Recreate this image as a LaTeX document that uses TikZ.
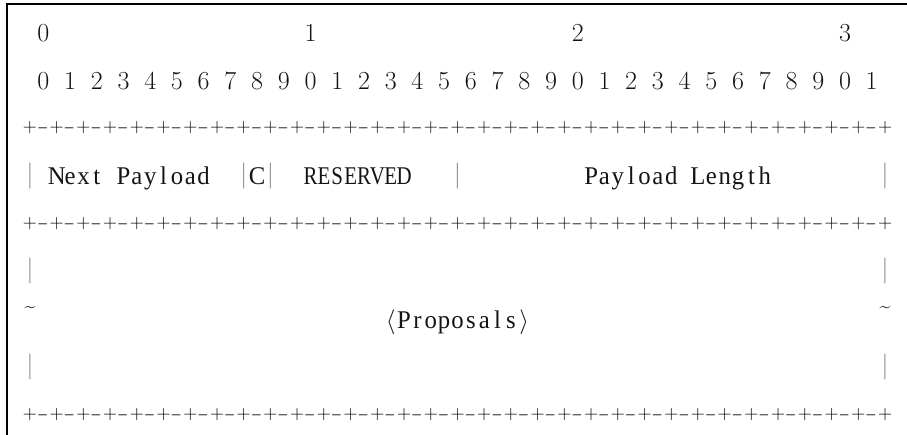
\documentclass[tikz,border=0pt]{standalone}
\usepackage{fontspec}
\usepackage{graphicx}
\newfontfamily\lettfont{Liberation Serif}
\definecolor{ink}{RGB}{20,20,20}
\definecolor{barc}{RGB}{140,140,140}
\tikzset{
  glyph/.style={inner sep=0pt, outer sep=0pt, anchor=base, text=ink,
    font=\fontsize{26}{30}\selectfont},
  letter/.style={glyph, font=\lettfont\fontsize{25.5}{30}\selectfont},
  rule/.style={glyph, text=black},
  vbar/.style={glyph, anchor=center, text=barc},
  frame/.style={line width=2.4pt, draw=black}
}
% column centre of a character cell
\newcommand\cx[1]{30+13.36*(#1)}
\newcommand\nar[1]{\scalebox{0.97}[1]{#1}}
\begin{document}
\begin{tikzpicture}[x=1pt,y=-1pt]
\useasboundingbox (0,0) rectangle (907,435);
\draw[frame] (7,435) -- (7,4) -- (907,4);

% word-number header
\node[glyph] (h0) at ({\cx{1}},41.4) {0};
\node[glyph] (h1) at ({\cx{21}},41.4) {1};
\node[glyph] (h2) at ({\cx{41}},41.4) {2};
\node[glyph] (h3) at ({\cx{61}},41.4) {3};

% bit numbers
\foreach \i in {0,...,31} {
  \pgfmathtruncatemacro\dg{mod(\i,10)}
  \node[glyph] (bit\i) at ({\cx{2*\i+1}},89.2) {\dg};
}

% +-+-+ rulers
\foreach \r/\yb in {2/132.9,4/228.5,8/419.7} {
  \foreach \i in {0,...,32}
    \node[rule] (pl\r-\i) at ({\cx{2*\i}},\yb) {\scalebox{0.75}{+}};
  \foreach \i in {0,...,31}
    \node[rule] (dh\r-\i) at ({\cx{2*\i+1}},\yb) {\scalebox{1.3}[0.75]{-}};
}

% first header word
\node[vbar] (b30) at ({\cx{0}},175.8) {\textbar};
\foreach \ch [count=\k from 2] in {N,e,x,t}
  \node[letter] (np\k) at ({\cx{\k}},184.8) {\nar{\ch}};
\foreach \ch [count=\k from 7] in {P,a,y,l,o,a,d}
  \node[letter] (np\k) at ({\cx{\k}},184.8) {\nar{\ch}};
\node[vbar] (b316) at ({\cx{16}},175.8) {\textbar};
\node[letter] (cflag) at ({\cx{17}},184.8) {\nar{C}};
\node[vbar] (b318) at ({\cx{18}},175.8) {\textbar};
\foreach \ch [count=\k from 21] in {R,E,S,E,R,V,E,D}
  \node[letter] (rs\k) at ({\cx{\k}},184.8) {\scalebox{0.82}[1]{\ch}};
\node[vbar] (b332) at ({\cx{32}},175.8) {\textbar};
\foreach \ch [count=\k from 42] in {P,a,y,l,o,a,d}
  \node[letter] (ln\k) at ({\cx{\k}},184.8) {\nar{\ch}};
\foreach \ch [count=\k from 50] in {L,e,n,g,t,h}
  \node[letter] (ln\k) at ({\cx{\k}},184.8) {\nar{\ch}};
\node[vbar] (b364) at ({\cx{64}},175.8) {\textbar};

% proposals block
\node[vbar] (b50) at ({\cx{0}},271.4) {\textbar};
\node[vbar] (b564) at ({\cx{64}},271.4) {\textbar};
\node[glyph, anchor=center] (t60) at ({\cx{0}},310) {\scalebox{0.75}{\textasciitilde}};
\node[glyph, anchor=center] (t664) at ({\cx{64}},310) {\scalebox{0.75}{\textasciitilde}};
\node[glyph] (lt) at ({\cx{27}},328.2) {$\langle$};
\foreach \ch [count=\k from 28] in {P,r,o,p,o,s,a,l,s}
  \node[letter] (pr\k) at ({\cx{\k}},328.2) {\nar{\ch}};
\node[glyph] (gt) at ({\cx{37}},328.2) {$\rangle$};
\node[vbar] (b70) at ({\cx{0}},367) {\textbar};
\node[vbar] (b764) at ({\cx{64}},367) {\textbar};
\end{tikzpicture}
\end{document}
